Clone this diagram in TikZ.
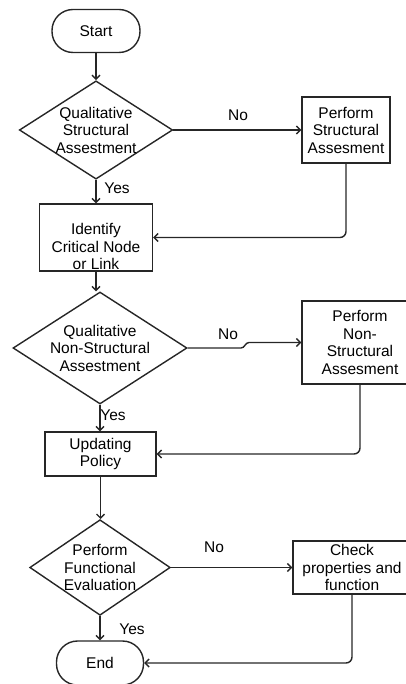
\documentclass[tikz,border=0pt]{standalone}
\usepackage{fontspec}
\setmainfont{Liberation Sans}
\usetikzlibrary{shapes.geometric,arrows.meta}
\begin{document}
\begin{tikzpicture}[x=1pt,y=-1pt,draw=black!85,line width=1.4pt,
		font=\fontsize{15.5}{17.5}\selectfont,
		terminal/.style={draw,rectangle,rounded corners=21pt,minimum width=88pt,minimum height=43pt},
		decision/.style={draw,diamond,align=center,inner sep=0pt},
		process/.style={draw,rectangle,align=center,inner sep=1pt},
		flow/.style={-{Straight Barb[length=4pt,width=8pt]}},
		back/.style={flow,rounded corners=6pt}]
		\useasboundingbox (0,0) rectangle (406,684);
		\node[terminal] (start) at (96,31) {Start};
		\node[decision,aspect=1.56,minimum width=148pt,minimum height=95pt] (qsa) at (96,130)
			{Qualitative\\Structural\\Assestment};
		\node[process,minimum width=88pt,minimum height=66pt] (psa) at (346,130)
			{Perform\\Structural\\Assesment};
		\node[process,minimum width=113pt,minimum height=67pt,text height=64pt,text depth=0pt] (icn) at (96,237.5)
			{Identify\\Critical Node\\or Link};
		\node[decision,aspect=1.55,minimum width=174pt,minimum height=112pt] (qnsa) at (100,348)
			{Qualitative\\Non-Structural\\Assestment};
		\node[process,minimum width=116pt,minimum height=83pt] (pnsa) at (360,342.5)
			{Perform\\Non-\\Structural\\Assesment};
		\node[process,minimum width=111pt,minimum height=44pt] (upd) at (100.5,454)
			{Updating\\Policy};
		\node[decision,aspect=1.47,minimum width=140pt,minimum height=95pt] (pfe) at (100,567.5)
			{Perform\\Functional\\Evaluation};
		\node[process,minimum width=118pt,minimum height=53pt] (cpf) at (352,567.5)
			{Check\\properties and\\function};
		\node[terminal,minimum width=87pt,minimum height=44pt] (end) at (100,663) {End};
		% labels
		\node (no1) at (238,115) {No};
		\node (yes1) at (117,188) {Yes};
		\node (no2) at (228,334) {No};
		\node (yes2) at (113,415) {Yes};
		\node (no3) at (214,547) {No};
		\node (yes3) at (132,629) {Yes};
		% connectors
		\draw[flow] (start) -- (qsa);
		\draw[flow] (qsa.east) -- (psa.west);
		\draw[flow] (qsa.south) -- (qsa.south |- icn.north);
		\draw[back] (psa.south) |- (icn.east);
		\draw[flow] (icn.south) -- (icn.south |- qnsa.north);
		\draw[flow] (qnsa.east) -- (241,348) .. controls (245,348) and (245,342.5) .. (249,342.5) -- (pnsa.west);
		\draw[flow] (qnsa.south) -- (upd.north -| qnsa.south);
		\draw[back] (pnsa.south) |- (upd.east);
		\draw[flow] (upd.south) -- (upd.south |- pfe.north);
		\draw[flow] (pfe.east) -- (cpf.west);
		\draw[flow] (pfe.south) -- (end.north -| pfe.south);
		\draw[back] (cpf.south) |- (end.east);
	\end{tikzpicture}
\end{document}
